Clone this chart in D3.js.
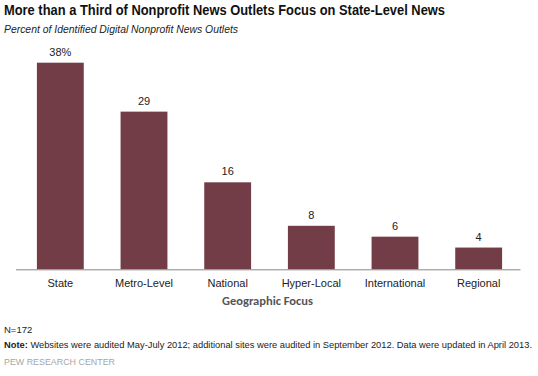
<!DOCTYPE html>
<html><head><meta charset="utf-8">
<script src="https://cdn.jsdelivr.net/npm/d3@7"></script>
<style>body{margin:0;background:#fff;} svg{display:block;font-family:"Liberation Sans",Arial,sans-serif;}</style>
</head><body>
<script>
const categories = ["State","Metro-Level","National","Hyper-Local","International","Regional"];
const values = [38,29,16,8,6,4];
const valueLabels = ["38%","29","16","8","6","4"];

const W=538,H=376;
const svg=d3.select("body").append("svg").attr("width",W).attr("height",H);
const baseY=269.3;
const x=d3.scaleBand().domain(categories).range([18.5,520.5]).paddingInner(0.44).paddingOuter(0.22);
const y=d3.scaleLinear().domain([0,38]).range([baseY,62.7]);

svg.append("text").attr("x",4).attr("y",15).attr("font-size",14).attr("font-weight","bold").attr("fill","#111")
  .attr("textLength",441).attr("lengthAdjust","spacingAndGlyphs")
  .text("More than a Third of Nonprofit News Outlets Focus on State-Level News");
svg.append("text").attr("x",4).attr("y",33).attr("font-size",11).attr("font-style","italic").attr("fill","#222")
  .attr("textLength",234).attr("lengthAdjust","spacingAndGlyphs")
  .text("Percent of Identified Digital Nonprofit News Outlets");

svg.selectAll("rect.bar").data(values).join("rect").attr("class","bar")
  .attr("x",(d,i)=>x(categories[i])).attr("width",x.bandwidth())
  .attr("y",d=>y(d)).attr("height",d=>baseY-y(d)).attr("fill","#733d47");

svg.selectAll("text.val").data(values).join("text").attr("class","val")
  .attr("x",(d,i)=>x(categories[i])+x.bandwidth()/2).attr("y",d=>y(d)-7)
  .attr("text-anchor","middle").attr("font-size",11).attr("fill","#222")
  .text((d,i)=>valueLabels[i]);

const axis=svg.append("g").attr("transform",`translate(0,${baseY})`)
  .call(d3.axisBottom(x).tickSize(0).tickPadding(10));
axis.select(".domain").attr("stroke","#888").attr("d","M16,0.5H520.5");
axis.selectAll("text").attr("font-size",11).attr("fill","#222").attr("font-family","Liberation Sans, Arial, sans-serif");

svg.append("text").attr("x",267.5).attr("y",305).attr("text-anchor","middle").attr("font-size",12.5)
  .attr("fill","#555").attr("font-family","Carlito, Lato, sans-serif").attr("font-weight","600").text("Geographic Focus");

svg.append("text").attr("x",4).attr("y",333).attr("font-size",9.5).attr("fill","#222").text("N=172");
const note=svg.append("text").attr("x",4).attr("y",348).attr("font-size",9).attr("fill","#222")
  .attr("textLength",528).attr("lengthAdjust","spacingAndGlyphs");
note.append("tspan").attr("font-weight","bold").text("Note:");
note.append("tspan").text(" Websites were audited May-July 2012; additional sites were audited in September 2012. Data were updated in April 2013.");
svg.append("text").attr("x",4).attr("y",365).attr("font-size",9.5).attr("fill","#a6a6a6")
  .attr("textLength",111).attr("lengthAdjust","spacingAndGlyphs").text("PEW RESEARCH CENTER");
</script>
</body></html>
